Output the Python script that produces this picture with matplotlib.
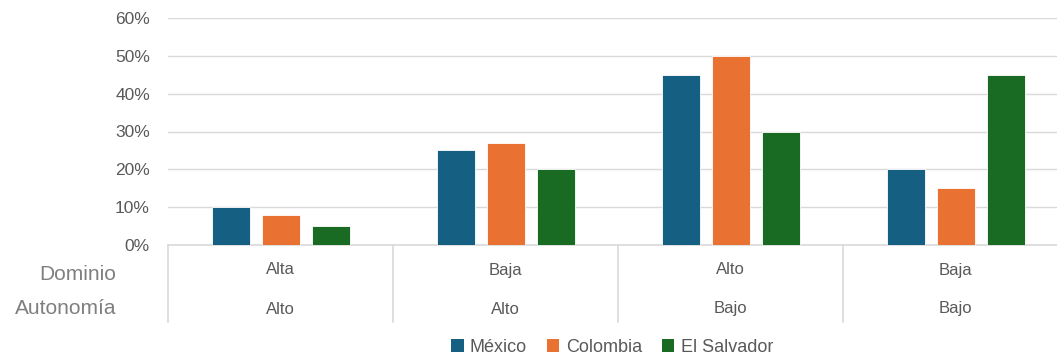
import numpy as np
import matplotlib.pyplot as plt
from matplotlib.patches import Patch
import matplotlib.transforms as mtransforms

# Datos del gráfico
dominio = ['Alta', 'Baja', 'Alto', 'Baja']
autonomia = ['Alto', 'Alto', 'Bajo', 'Bajo']
paises = ['México', 'Colombia', 'El Salvador']
mexico = [0.10, 0.25, 0.45, 0.20]
colombia = [0.08, 0.27, 0.50, 0.15]
el_salvador = [0.05, 0.20, 0.30, 0.45]
colores = ['#156082', '#E97132', '#196B24']

plt.rcParams['font.family'] = ['Liberation Sans', 'DejaVu Sans']
gris = '#595959'

W, H = 1057, 355
fig = plt.figure(figsize=(W / 100, H / 100), dpi=100)
# el área de trazado sigue más allá del borde derecho (recortada como en el original)
ax = fig.add_axes([168 / W, 1 - 245 / H, (1068 - 168) / W, (245 - 18) / H])

x = np.arange(len(dominio))
ancho = 38 / 225
paso = 50 / 225
for i, (serie, color) in enumerate(zip([mexico, colombia, el_salvador], colores)):
    ax.bar(x + (i - 1) * paso, serie, ancho, color=color, edgecolor='white',
           linewidth=0.6, zorder=3, label=paises[i])

ax.set_xlim(-0.5, len(dominio) - 0.5)
ax.set_ylim(0, 0.6)
ax.set_yticks(np.arange(0, 0.61, 0.1))
ax.set_yticklabels([f'{int(round(v * 100))}%' for v in np.arange(0, 0.61, 0.1)],
                   fontsize=12.5, color=gris)
ax.tick_params(axis='y', length=0, pad=13)
ax.set_xticks([])
ax.grid(axis='y', color='#d9d9d9', linewidth=1, zorder=0)
for s in ['top', 'right', 'left']:
    ax.spines[s].set_visible(False)
ax.spines['bottom'].set_color('#d9d9d9')
ax.spines['bottom'].set_linewidth(1.2)

# Eje de categorías de dos niveles
trans = mtransforms.blended_transform_factory(ax.transData, ax.transAxes)
y_fondo = -(322 - 245) / 227
for sep in np.arange(-0.5, len(dominio), 1.0):
    ax.plot([sep, sep], [0, y_fondo], transform=trans, color='#d9d9d9',
            linewidth=1.2, clip_on=False)
for i in range(len(dominio)):
    ax.text(i, -(270 - 245) / 227, dominio[i], transform=trans, ha='center',
            va='center', fontsize=12, color=gris)
    ax.text(i, -(309 - 245) / 227, autonomia[i], transform=trans, ha='center',
            va='center', fontsize=12, color=gris)

gris_claro = '#7f7f7f'
fig.text(116 / W, 1 - 275 / H, 'Dominio', ha='right', va='center', fontsize=15, color=gris_claro)
fig.text(116 / W, 1 - 309 / H, 'Autonomía', ha='right', va='center', fontsize=15, color=gris_claro)

handles = [Patch(facecolor=c, edgecolor='none') for c in colores]
fig.legend(handles, paises, loc='center', bbox_to_anchor=(612 / W, 1 - 347 / H), ncol=3,
           frameon=False, fontsize=13, handlelength=0.7, handleheight=0.7,
           handletextpad=0.35, columnspacing=1.1, labelcolor=gris)

fig.savefig('out.png', dpi=100)
